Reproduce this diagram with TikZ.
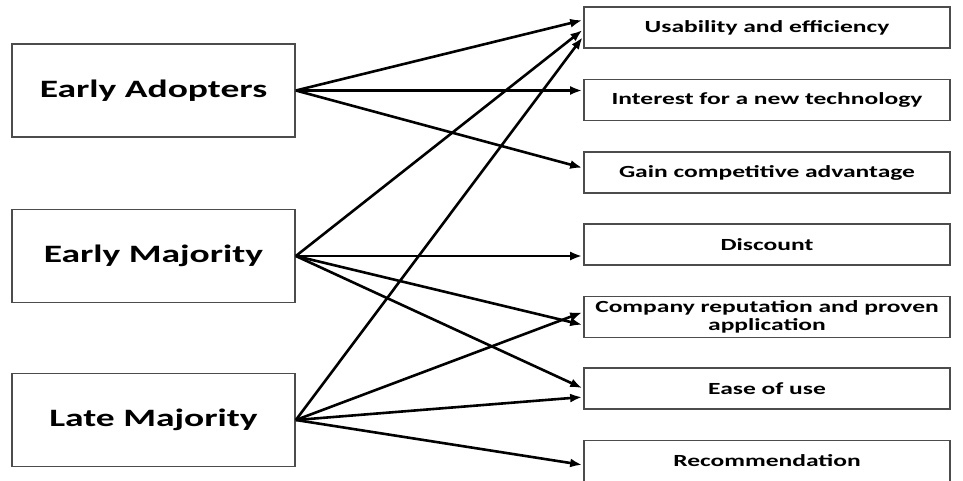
\documentclass[tikz,border=0pt]{standalone}
\usepackage{fontspec}
\usepackage{tikz}
\usetikzlibrary{arrows.meta}
\newfontfamily\diagfont[FakeStretch=1.5]{Carlito}

\begin{document}
\begin{tikzpicture}[x=1pt, y=-1pt,
		lbox/.style={draw=black!70, line width=1.7pt, rectangle, minimum width=283pt, minimum height=93pt, inner sep=0pt, font=\diagfont\bfseries\fontsize{25}{29}\selectfont},
		rbox/.style={draw=black!70, line width=1.7pt, rectangle, minimum width=366pt, minimum height=41pt, inner sep=0pt, align=center, font=\diagfont\bfseries\fontsize{17}{18.5}\selectfont},
		conn/.style={line width=2.6pt, -{Latex[length=12pt, width=9pt]}, shorten >=1pt}]
	\useasboundingbox (0,0) rectangle (963,480);

	\node[lbox] (EA) at (153.5, 90.5) {Early Adopters};
	\node[lbox] (EM) at (153.5, 256) {Early Majority};
	\node[lbox] (LM) at (153.5, 420) {Late Majority};

	\node[rbox] (U) at (767, 27.5) {Usability and efficiency};
	\node[rbox] (I) at (767, 100) {Interest for a new technology};
	\node[rbox] (G) at (767, 172.5) {Gain competitive advantage};
	\node[rbox] (D) at (767, 244.5) {Discount};
	\node[rbox] (C) at (767, 317) {Company reputation and proven\\application};
	\node[rbox] (E) at (767, 388.5) {Ease of use};
	\node[rbox] (R) at (767, 461) {Recommendation};

	\draw[conn] (EA.east) -- ([yshift=7.5pt]U.west);
	\draw[conn] (EA.east) -- ([yshift=9.5pt]I.west);
	\draw[conn] (EA.east) -- ([yshift=4.5pt]G.west);

	\draw[conn] (EM.east) -- ([yshift=-2pt]U.west);
	\draw[conn] (EM.east) -- ([yshift=-11.5pt]D.west);
	\draw[conn] (EM.east) -- ([yshift=-8pt]C.west);
	\draw[conn] (EM.east) -- (E.west);

	\draw[conn] (LM.east) -- ([yshift=-9pt]U.west);
	\draw[conn] (LM.east) -- ([yshift=5pt]C.west);
	\draw[conn] (LM.east) -- ([yshift=-8.5pt]E.west);
	\draw[conn] (LM.east) -- ([yshift=-4pt]R.west);
\end{tikzpicture}
\end{document}
